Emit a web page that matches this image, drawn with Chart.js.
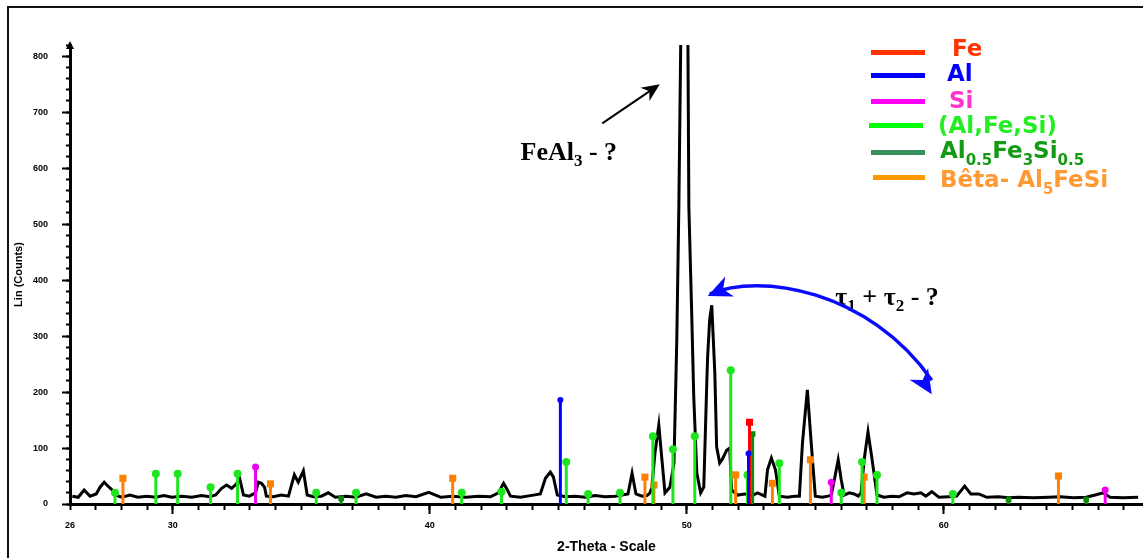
<!DOCTYPE html>
<html>
<head>
<meta charset="utf-8">
<script src="https://cdn.jsdelivr.net/npm/chart.js@4.4.0/dist/chart.umd.min.js"></script>
<style>
  html, body { margin: 0; padding: 0; background: #fff; }
  #wrap { position: relative; width: 1143px; height: 558px; overflow: hidden; }
  #chart { position: absolute; left: 0; top: 0; }
  .lg-line { position: absolute; height: 5px; }
  .lg-text { position: absolute; font-family: "DejaVu Sans", sans-serif; font-weight: bold; font-size: 23px; line-height: 23px; white-space: nowrap; }
  .lg-text sub { font-size: 15px; vertical-align: -7px; line-height: 0; }
</style>
</head>
<body>
<div id="wrap">
  <canvas id="chart" width="1143" height="558"></canvas>
  <!-- legend -->
  <div class="lg-line" style="left:871px;top:50px;width:54px;background:#ff3300"></div>
  <div class="lg-text" style="left:952px;top:37px;color:#ff3300">Fe</div>
  <div class="lg-line" style="left:871px;top:73px;width:54px;background:#0000ff"></div>
  <div class="lg-text" style="left:947px;top:62px;color:#0000ff">Al</div>
  <div class="lg-line" style="left:871px;top:99px;width:54px;background:#ff00ff"></div>
  <div class="lg-text" style="left:949px;top:89px;color:#ff33cc">Si</div>
  <div class="lg-line" style="left:869px;top:123px;width:54px;background:#00ff00"></div>
  <div class="lg-text" style="left:938px;top:114px;color:#22ee22">(Al,Fe,Si)</div>
  <div class="lg-line" style="left:871px;top:150px;width:54px;background:#3a8f5f"></div>
  <div class="lg-text" style="left:940px;top:139px;color:#139a13">Al<sub>0.5</sub>Fe<sub>3</sub>Si<sub>0.5</sub></div>
  <div class="lg-line" style="left:873px;top:175px;width:52px;background:#ff9900"></div>
  <div class="lg-text" style="left:940px;top:168px;color:#ff9933">Bêta- Al<sub>5</sub>FeSi</div>
</div>
<script>
//axis tick labels
const xTickLabels = [26, 30, 40, 50, 60];
const yTickLabels = [0, 100, 200, 300, 400, 500, 600, 700, 800];

//measured pattern: 2-theta (deg)
const theta = [
  26.09, 26.32, 26.55, 26.78, 27.02, 27.17, 27.33, 27.52, 27.64, 27.75,
  28.02, 28.33, 28.64, 28.99, 29.34, 29.65, 29.96, 30.35, 30.74, 31.12,
  31.43, 31.67, 31.90, 32.09, 32.29, 32.48, 32.60, 32.75, 32.98, 33.22,
  33.33, 33.45, 33.57, 33.64, 33.91, 34.22, 34.50, 34.73, 34.88, 35.08,
  35.23, 35.47, 35.78, 36.05, 36.32, 36.74, 37.13, 37.52, 37.91, 38.29,
  38.68, 39.07, 39.46, 39.96, 40.43, 40.89, 41.40, 41.90, 42.36, 42.67,
  42.87, 43.02, 43.14, 43.53, 43.91, 44.30, 44.50, 44.69, 44.81, 44.96,
  45.27, 45.66, 46.05, 46.43, 46.82, 47.21, 47.48, 47.71, 47.87, 48.02,
  48.26, 48.45, 48.57, 48.64, 48.76, 48.91, 49.03, 49.15, 49.34, 49.50,
  49.61, 49.69, 49.77, 49.92, 50.04, 50.08, 50.19, 50.27, 50.39, 50.54,
  50.66, 50.78, 50.81, 50.89, 50.97, 51.09, 51.16, 51.28, 51.36, 51.55,
  51.67, 51.74, 51.98, 52.25, 52.52, 52.75, 52.95, 53.04, 53.14, 53.29,
  53.45, 53.60, 53.91, 54.19, 54.38, 54.50, 54.69, 54.84, 55.00, 55.27,
  55.50, 55.62, 55.74, 55.89, 56.01, 56.12, 56.32, 56.51, 56.67, 56.78,
  56.90, 57.05, 57.21, 57.40, 57.67, 57.98, 58.26, 58.57, 58.84, 59.11,
  59.30, 59.53, 59.81, 60.19, 60.50, 60.81, 61.05, 61.36, 61.67, 62.13,
  62.52, 62.91, 63.49, 64.07, 64.53, 65.04, 65.54, 65.89, 66.20, 66.47,
  66.98, 67.56
];
//measured pattern: intensity (counts)
const counts = [
  14, 12, 25, 14, 18, 30, 39, 30, 25, 16,
  12, 16, 12, 14, 12, 15, 12, 14, 12, 15,
  13, 16, 28, 34, 28, 36, 46, 16, 14, 20,
  39, 37, 30, 14, 13, 16, 14, 52, 39, 59,
  16, 13, 14, 20, 12, 14, 12, 18, 12, 14,
  12, 15, 13, 21, 12, 14, 12, 14, 13, 20,
  37, 25, 14, 12, 15, 18, 46, 57, 48, 16,
  13, 14, 12, 15, 13, 14, 16, 18, 55, 18,
  14, 15, 20, 30, 91, 141, 80, 20, 30, 73,
  293, 530, 850, 1100, 850, 530, 341, 191, 55, 20,
  30, 221, 263, 330, 355, 234, 102, 73, 78, 96,
  100, 25, 16, 18, 14, 20, 16, 14, 61, 82,
  61, 14, 12, 14, 14, 109, 204, 109, 14, 12,
  14, 16, 43, 79, 43, 16, 20, 18, 14, 20,
  79, 129, 79, 16, 12, 14, 13, 20, 18, 20,
  14, 22, 12, 13, 14, 32, 18, 18, 12, 13,
  11, 12, 11, 12, 13, 11, 12, 16, 20, 12,
  11, 12
];

//reference lines per phase: position and height
const feTheta = [52.44];
const feHeight = [146];
const alTheta = [45.08, 52.40];
const alHeight = [186, 90];
const siTheta = [33.22, 55.62, 66.28];
const siHeight = [66, 39, 25];
const alfesiTheta = [27.75, 29.34, 30.19, 31.47, 32.52, 35.58, 37.13, 41.24, 42.79, 45.31,
                     46.16, 47.40, 48.68, 49.46, 50.31, 51.71, 52.36, 53.60, 56.01, 56.82, 57.40, 60.35];
const alfesiHeight = [20, 54, 54, 30, 54, 20, 20, 20, 22, 75,
                      18, 20, 121, 98, 121, 239, 52, 73, 20, 75, 52, 18];
const fe3Theta = [36.55, 52.56, 62.52, 65.54];
const fe3Height = [10, 125, 8, 8];
const betaTheta = [28.06, 33.80, 40.89, 48.37, 48.72, 51.90, 53.33, 54.81, 56.90, 64.46];
const betaHeight = [46, 36, 46, 48, 34, 52, 37, 79, 48, 50];

//turn positions + heights into vertical sticks (gap between each)
function sticks(pos, h) {
    let out = [];
    pos.forEach((p, i) => {
        out.push({x: p, y: 0});
        out.push({x: p, y: h[i]});
        out.push({x: p, y: null});
    });
    return out;
}

function stickSet(pos, h, color, style, r) {
    return {
        data: sticks(pos, h),
        borderColor: color,
        backgroundColor: color,
        borderWidth: 3,
        showLine: true,
        spanGaps: false,
        pointStyle: style,
        pointRadius: ctx => (ctx.raw && ctx.raw.y > 0 ? r : 0),
        pointBorderWidth: 0,
        xAxisID: 'x',
        yAxisID: 'y',
        order: 1
    };
}

const tickFont = {family: 'Liberation Sans', size: 9, weight: 'bold'};

//frame, axis arrow and annotations
const extras = {
    id: 'extras',
    beforeDraw(chart) {
        const ctx = chart.ctx;
        ctx.save();
        ctx.fillStyle = '#fff';
        ctx.fillRect(0, 0, chart.width, chart.height);
        ctx.restore();
    },
    afterDraw(chart) {
        const ctx = chart.ctx;
        const xs = chart.scales.x, ys = chart.scales.y;
        const px = v => xs.getPixelForValue(v);
        const py = v => ys.getPixelForValue(v);
        ctx.save();

        //outer frame (top + left)
        ctx.strokeStyle = '#111';
        ctx.lineWidth = 2;
        ctx.beginPath();
        ctx.moveTo(8, chart.height);
        ctx.lineTo(8, 7);
        ctx.lineTo(chart.width, 7);
        ctx.stroke();

        //arrow on top of y axis
        const ax = chart.chartArea.left, ay = chart.chartArea.top;
        ctx.fillStyle = '#000';
        ctx.beginPath();
        ctx.moveTo(ax, ay - 4);
        ctx.lineTo(ax - 4, ay + 4);
        ctx.lineTo(ax + 4, ay + 4);
        ctx.closePath();
        ctx.fill();

        function head(x, y, ang, len, w) {
            ctx.beginPath();
            ctx.moveTo(x, y);
            ctx.lineTo(x - len * Math.cos(ang) + w * Math.sin(ang), y - len * Math.sin(ang) - w * Math.cos(ang));
            ctx.lineTo(x - len * 0.7 * Math.cos(ang), y - len * 0.7 * Math.sin(ang));
            ctx.lineTo(x - len * Math.cos(ang) - w * Math.sin(ang), y - len * Math.sin(ang) + w * Math.cos(ang));
            ctx.closePath();
            ctx.fill();
        }

        //FeAl3 label + arrow
        ctx.fillStyle = '#000';
        ctx.strokeStyle = '#000';
        ctx.textBaseline = 'alphabetic';
        let tx = px(43.53), ty = py(614);
        ctx.font = 'bold 26px "Liberation Serif"';
        ctx.fillText('FeAl', tx, ty);
        tx += ctx.measureText('FeAl').width;
        ctx.font = 'bold 17px "Liberation Serif"';
        ctx.fillText('3', tx, ty + 6);
        tx += ctx.measureText('3').width;
        ctx.font = 'bold 26px "Liberation Serif"';
        ctx.fillText(' - ?', tx, ty);

        let x1 = px(46.71), y1 = py(680), x2 = px(48.95), y2 = py(750);
        ctx.lineWidth = 2;
        ctx.beginPath();
        ctx.moveTo(x1, y1);
        ctx.lineTo(x2 - 10 * Math.cos(Math.atan2(y2 - y1, x2 - x1)), y2 - 10 * Math.sin(Math.atan2(y2 - y1, x2 - x1)));
        ctx.stroke();
        head(x2, y2, Math.atan2(y2 - y1, x2 - x1), 18, 8);

        //tau label
        tx = px(55.78); ty = py(355);
        const parts = [['τ', 26, 0], ['1', 17, 6], [' + τ', 26, 0], ['2', 17, 6], [' - ?', 26, 0]];
        parts.forEach(p => {
            ctx.font = 'bold ' + p[1] + 'px "Liberation Serif"';
            ctx.fillText(p[0], tx, ty + p[2]);
            tx += ctx.measureText(p[0]).width;
        });

        //blue double arrow
        const s = [px(50.89), py(375)], c1 = [px(52.83), py(414)], c2 = [px(57.09), py(382)], e = [px(59.53), py(207)];
        ctx.strokeStyle = '#0a0aff';
        ctx.fillStyle = '#0a0aff';
        ctx.lineWidth = 3.5;
        ctx.beginPath();
        ctx.moveTo(s[0], s[1]);
        ctx.bezierCurveTo(c1[0], c1[1], c2[0], c2[1], e[0], e[1] - 8);
        ctx.stroke();
        head(s[0] - 2, s[1] + 2, Math.atan2(s[1] - c1[1], s[0] - c1[0]), 24, 11);
        head(e[0], e[1] + 6, Math.atan2(e[1] - c2[1], e[0] - c2[0]), 24, 11);

        ctx.restore();
    }
};

const ctx = document.getElementById('chart').getContext('2d');
const xrdChart = new Chart(ctx, {
    type: 'scatter',
    data: {
        datasets: [
            {
                data: theta.map((t, i) => ({x: t, y: counts[i]})),
                borderColor: '#000',
                borderWidth: 3,
                showLine: true,
                pointRadius: 0,
                tension: 0,
                xAxisID: 'x',
                yAxisID: 'y',
                order: 10
            },
            stickSet(alTheta, alHeight, '#0000ff', 'circle', 3),
            stickSet(feTheta, feHeight, '#ff0000', 'rect', 5),
            stickSet(fe3Theta, fe3Height, '#0a8a0a', 'rect', 4),
            stickSet(alfesiTheta, alfesiHeight, '#1ee61e', 'circle', 4),
            stickSet(siTheta, siHeight, '#ee00ee', 'circle', 3.5),
            stickSet(betaTheta, betaHeight, '#ff8000', 'rect', 5)
        ]
    },
    options: {
        responsive: false,
        animation: false,
        devicePixelRatio: 1,
        layout: {padding: {top: 45, right: 0, left: 0, bottom: 0}},
        plugins: {legend: {display: false}, tooltip: {enabled: false}},
        scales: {
            x: {
                type: 'linear', axis: 'x', position: 'bottom', min: 26, max: 67.75, weight: 1,
                afterBuildTicks: s => { s.ticks = xTickLabels.map(v => ({value: v})); },
                afterFit: s => { s.height = 54; },
                grid: {
                    drawOnChartArea: false, tickLength: 10, tickWidth: 2,
                    tickColor: c => (c.tick && c.tick.value === xTickLabels[0] ? 'rgba(0,0,0,0)' : '#000')
                },
                border: {display: true, color: '#000', width: 3},
                ticks: {color: '#000', font: tickFont, padding: 6, maxRotation: 0, autoSkip: false},
                title: {display: true, text: '2-Theta - Scale', color: '#000',
                        font: {family: 'Liberation Sans', size: 14, weight: 'bold'}, padding: {top: 0, bottom: 2}}
            },
            xMinor: {
                type: 'linear', axis: 'x', position: 'bottom', min: 26, max: 67.75, weight: 0,
                afterFit: s => { s.height = 0; },
                grid: {drawOnChartArea: false, tickLength: 6, tickWidth: 2, tickColor: '#000'},
                border: {display: false},
                ticks: {display: false, stepSize: 1, includeBounds: false}
            },
            y: {
                type: 'linear', axis: 'y', position: 'left', min: 0, max: 820, weight: 1,
                afterBuildTicks: s => { s.ticks = yTickLabels.map(v => ({value: v})); },
                afterFit: s => { s.width = 70; },
                grid: {drawOnChartArea: false, tickLength: 8, tickWidth: 2, tickColor: '#000'},
                border: {display: true, color: '#000', width: 3},
                ticks: {color: '#000', font: tickFont, padding: 14},
                title: {display: true, text: 'Lin (Counts)', color: '#000',
                        font: {family: 'Liberation Sans', size: 11, weight: 'bold'}, padding: {top: 12, bottom: 0}}
            },
            yMinor: {
                type: 'linear', axis: 'y', position: 'left', min: 0, max: 820, weight: 0,
                afterFit: s => { s.width = 0; },
                grid: {drawOnChartArea: false, tickLength: 4, tickWidth: 2, tickColor: '#000'},
                border: {display: false},
                ticks: {display: false, stepSize: 20, includeBounds: false}
            }
        }
    },
    plugins: [extras]
});
</script>
</body>
</html>
